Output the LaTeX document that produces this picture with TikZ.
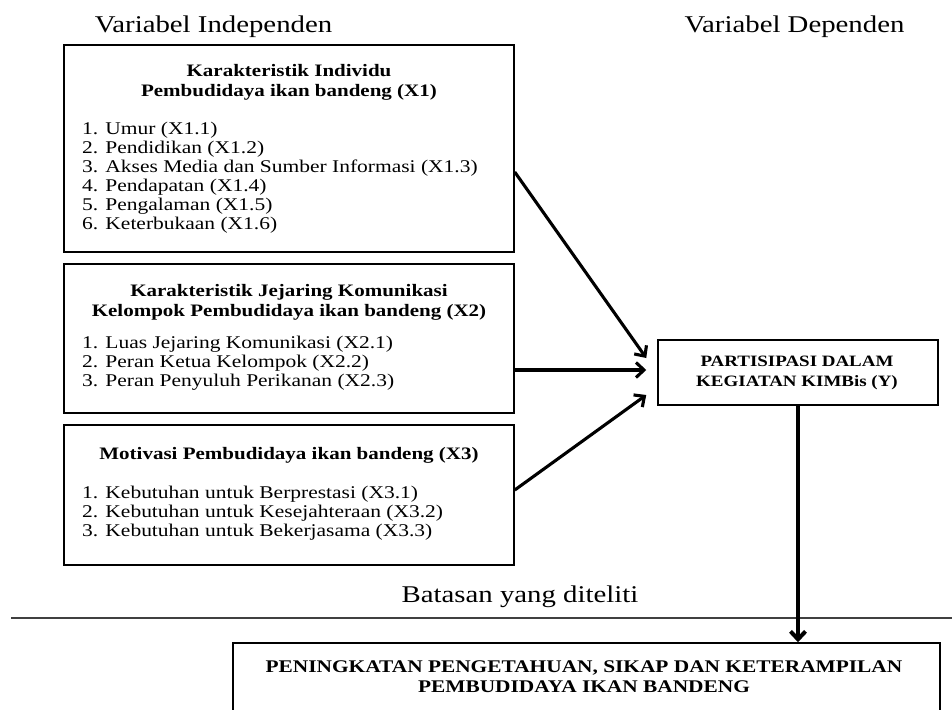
\documentclass[tikz,border=0pt]{standalone}
\usepackage{fontspec}
\setmainfont{Liberation Serif}[FakeStretch=1.2]
\usetikzlibrary{arrows.meta}

\tikzset{
    varbox/.style={draw, line width=1.5pt, inner sep=0pt},
    head/.style={inner sep=0pt, anchor=base, font=\fontsize{24}{28}\selectfont},
    boxtitle/.style={inner sep=0pt, align=center, font=\bfseries\fontsize{17.5}{20}\selectfont},
    itemlist/.style={inner sep=0pt, align=left, anchor=west, font=\fontsize{17.9}{19}\selectfont},
    caps/.style={inner sep=0pt, align=center, font=\bfseries\fontsize{15.8}{20}\selectfont},
    arr/.style={line width=3.1pt, -{Straight Barb[length=8pt,width=15pt]}}
}

\begin{document}
\begin{tikzpicture}[x=1pt, y=-1pt]
    \clip (0,0) rectangle (952,709);

    % headings
    \node[head] (hind) at (213.5,33) {Variabel Independen};
    \node[head] (hdep) at (794.5,33) {Variabel Dependen};

    % independent variables
    \node[varbox, minimum width=450pt, minimum height=207pt] (x1) at (289,148.5) {};
    \node[boxtitle] (x1t) at (289,82) {Karakteristik Individu\\Pembudidaya ikan bandeng (X1)};
    \node[itemlist] (x1i) at (82,177.5) {1. Umur (X1.1)\\2. Pendidikan (X1.2)\\3. Akses Media dan Sumber Informasi (X1.3)\\4. Pendapatan (X1.4)\\5. Pengalaman (X1.5)\\6. Keterbukaan (X1.6)};

    \node[varbox, minimum width=450pt, minimum height=149pt] (x2) at (289,338.5) {};
    \node[boxtitle] (x2t) at (289,302) {Karakteristik Jejaring Komunikasi\\Kelompok Pembudidaya ikan bandeng (X2)};
    \node[itemlist] (x2i) at (82,363.5) {1. Luas Jejaring Komunikasi (X2.1)\\2. Peran Ketua Kelompok (X2.2)\\3. Peran Penyuluh Perikanan (X2.3)};

    \node[varbox, minimum width=450pt, minimum height=140pt] (x3) at (289,495) {};
    \node[boxtitle] (x3t) at (289,455) {Motivasi Pembudidaya ikan bandeng (X3)};
    \node[itemlist] (x3i) at (82,513.5) {1. Kebutuhan untuk Berprestasi (X3.1)\\2. Kebutuhan untuk Kesejahteraan (X3.2)\\3. Kebutuhan untuk Bekerjasama (X3.3)};

    % dependent variable
    \node[varbox, minimum width=280pt, minimum height=65pt] (y) at (798,372.5) {};
    \node[caps] (yt) at (797,373) {PARTISIPASI DALAM\\KEGIATAN KIMBis (Y)};

    % boundary
    \coordinate (bl) at (11,618);
    \coordinate (br) at (952,618);
    \draw[line width=1.4pt, black!75] (bl) -- (br);
    \node[head] (lim) at (520,602) {Batasan yang diteliti};

    % outcome
    \node[varbox, minimum width=707pt, minimum height=92pt] (out) at (586.5,689) {};
    \node[caps, font=\bfseries\fontsize{17.8}{20}\selectfont] (outt) at (584,677) {PENINGKATAN PENGETAHUAN, SIKAP DAN KETERAMPILAN\\PEMBUDIDAYA IKAN BANDENG};

    % connections
    \draw[arr] ([yshift=-23.5pt]x1.east) -- ([xshift=-11pt, yshift=14.5pt]y.west);
    \draw[arr] ([yshift=-31.5pt]x2.east) -- ([xshift=-11pt, yshift=2.5pt]y.west);
    \draw[arr] ([yshift=5pt]x3.east) -- ([xshift=-11pt, yshift=-22.5pt]y.west);
    \draw[arr, line width=4pt] (y.south) -- (y.south |- out.north);
\end{tikzpicture}
\end{document}
